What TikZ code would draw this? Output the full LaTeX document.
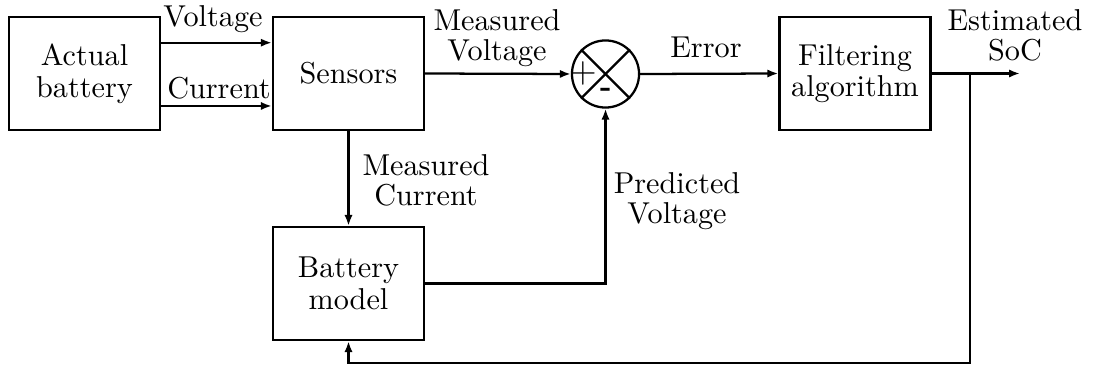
\documentclass[tikz,border=0pt]{standalone}
\usetikzlibrary{arrows.meta}
\begin{document}
\begin{tikzpicture}[x=0.331pt,y=-0.331pt,line width=0.75pt,
  blk/.style={draw,minimum width=50pt,minimum height=37.4pt,inner sep=0pt,align=center,font=\fontsize{10}{10.5}\selectfont},
  lbl/.style={align=center,inner sep=0pt,font=\fontsize{10}{10}\selectfont},
  arr/.style={-{Latex[length=3.6pt,width=2.7pt]}}]
\useasboundingbox (0,0) rectangle (1096,367);
\node[blk] (bat) at (84.5,73.5) {Actual\\battery};
\node[blk] (sen) at (348.5,73.5) {Sensors};
\node[blk] (mod) at (348.5,283.5) {Battery\\model};
\node[blk] (fil) at (855,73.5) {Filtering\\algorithm};
\node[draw,circle,minimum size=22.2pt,inner sep=0pt] (sum) at (605.5,74) {};
\draw (sum.north west) -- (sum.south east);
\draw (sum.north east) -- (sum.south west);
\node[inner sep=0pt,font=\fontsize{12}{12}\selectfont] (plus) at (583,73) {+};
\node[inner sep=0pt,font=\fontsize{10}{10}\selectfont\bfseries] (minus) at (606,92) {-};
\coordinate (br) at (970,73.5);
\coordinate (out) at (1020,73.5);
\coordinate (fb) at (970,363);
\draw[arr] ([yshift=10.2pt]bat.east) -- ([yshift=10.2pt]sen.west);
\draw[arr] ([yshift=-10.75pt]bat.east) -- ([yshift=-10.75pt]sen.west);
\draw[arr] (sen.east) -- (sum.west);
\draw[arr] (sum.east) -- (fil.west);
\draw[arr] (fil.east) -- (out);
\draw[arr] (br) -- (fb) -| (mod.south);
\draw[arr] (sen.south) -- (mod.north);
\draw[arr] (mod.east) -| (sum.south);
\node[lbl] (lv) at (213,19) {Voltage};
\node[lbl] (lc) at (219,88) {Current};
\node[lbl] (lmv) at (497,38) {Measured\\Voltage};
\node[lbl] (le) at (706,47) {Error};
\node[lbl] (les) at (1015,35) {Estimated\\SoC};
\node[lbl] (lmc) at (426,180) {Measured\\Current};
\node[lbl] (lpv) at (677,201) {Predicted\\Voltage};
\end{tikzpicture}
\end{document}
